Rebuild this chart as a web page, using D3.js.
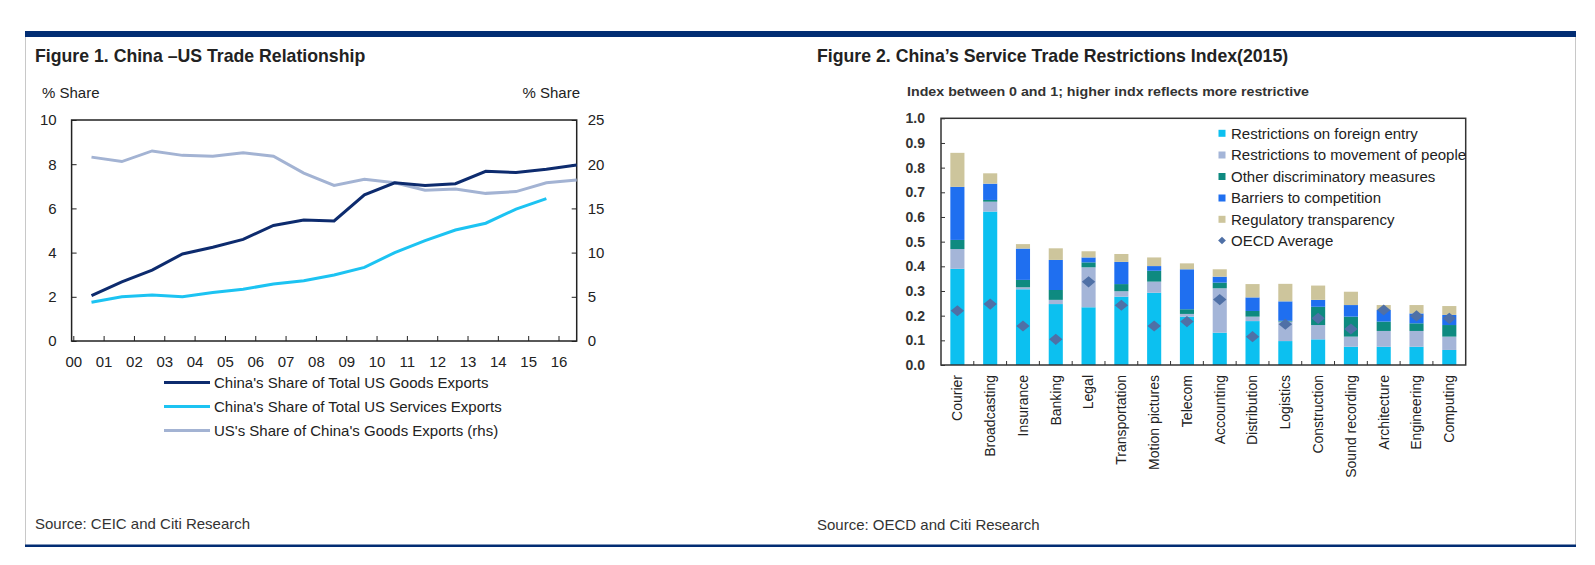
<!DOCTYPE html>
<html>
<head>
<meta charset="utf-8">
<script src="https://cdn.jsdelivr.net/npm/d3@7"></script>
<style>
  html, body { margin: 0; padding: 0; background: #fff; }
  svg text { font-family: "Liberation Sans", Arial, sans-serif; }
</style>
</head>
<body>
<script>
// ---------- Figure 1 data ----------
const yearLabels = ["00","01","02","03","04","05","06","07","08","09","10","11","12","13","14","15","16"];
const goodsShare = [2.05, 2.68, 3.21, 3.94, 4.24, 4.60, 5.23, 5.47, 5.43, 6.61, 7.16, 7.04, 7.12, 7.68, 7.62, 7.77, 7.96];
const servicesShare = [1.75, 2.00, 2.08, 2.00, 2.19, 2.34, 2.58, 2.73, 2.99, 3.33, 4.00, 4.54, 5.02, 5.33, 5.97, 6.44];
const usShareChina = [20.8, 20.3, 21.5, 21.0, 20.9, 21.3, 20.9, 19.0, 17.6, 18.3, 17.9, 17.05, 17.2, 16.7, 16.9, 17.9, 18.2];
const leftTicks = [0, 2, 4, 6, 8, 10];
const rightTicks = [0, 5, 10, 15, 20, 25];
const lineNames = ["China's Share of Total US Goods Exports", "China's Share of Total US Services Exports", "US's Share of China's Goods Exports (rhs)"];
const lineColors = ["#0d2b6e", "#1cc3f2", "#a3b3d3"];

// ---------- Figure 2 data ----------
const sectors = ["Courier","Broadcasting","Insurance","Banking","Legal","Transportation","Motion pictures","Telecom","Accounting","Distribution","Logistics","Construction","Sound recording","Architecture","Engineering","Computing"];
const foreignEntry   = [0.390, 0.622, 0.307, 0.247, 0.234, 0.277, 0.293, 0.196, 0.131, 0.178, 0.097, 0.104, 0.074, 0.074, 0.074, 0.061];
const movementPeople = [0.080, 0.040, 0.008, 0.017, 0.162, 0.022, 0.045, 0.011, 0.180, 0.018, 0.079, 0.058, 0.041, 0.064, 0.064, 0.054];
const otherDiscrim   = [0.037, 0.007, 0.030, 0.040, 0.020, 0.029, 0.044, 0.019, 0.023, 0.023, 0.003, 0.074, 0.081, 0.038, 0.031, 0.047];
const barriersComp   = [0.215, 0.066, 0.127, 0.122, 0.020, 0.090, 0.019, 0.162, 0.024, 0.055, 0.079, 0.028, 0.047, 0.047, 0.040, 0.041];
const regTransparency= [0.138, 0.042, 0.018, 0.047, 0.025, 0.032, 0.035, 0.024, 0.030, 0.054, 0.071, 0.058, 0.054, 0.020, 0.034, 0.036];
const oecdAverage    = [0.220, 0.247, 0.158, 0.104, 0.337, 0.242, 0.158, 0.176, 0.265, 0.115, 0.165, 0.189, 0.146, 0.223, 0.199, 0.189];
const seriesNames = ["Restrictions on foreign entry","Restrictions to movement of people","Other discriminatory measures","Barriers to competition","Regulatory transparency"];
const seriesColors = ["#0cc0f0", "#a4b5d8", "#0e8a80", "#1f6ff0", "#cdc59c"];
const diamondColor = "#4f70a6";
const indexTicks = [0,0.1,0.2,0.3,0.4,0.5,0.6,0.7,0.8,0.9,1.0];

const W = 1595, H = 565;
const svg = d3.select("body").append("svg").attr("width", W).attr("height", H);
const textCol = "#222";

// ---------- frame ----------
svg.append("line").attr("x1", 25.5).attr("x2", 25.5).attr("y1", 37).attr("y2", 545).attr("stroke", "#c8c8c8").attr("stroke-width", 1);
svg.append("line").attr("x1", 1575.5).attr("x2", 1575.5).attr("y1", 37).attr("y2", 545).attr("stroke", "#c8c8c8").attr("stroke-width", 1);
svg.append("rect").attr("x", 25).attr("y", 31).attr("width", 1551).attr("height", 6).attr("fill", "#022d73");
svg.append("rect").attr("x", 25).attr("y", 544.5).attr("width", 1551).attr("height", 2.5).attr("fill", "#022d73");

// ========== Figure 1 ==========
const g1 = svg.append("g");
g1.append("text").attr("x", 35).attr("y", 62).attr("font-size", 17.7).attr("font-weight", "bold").attr("fill", textCol)
  .text("Figure 1. China \u2013US Trade Relationship");
g1.append("text").attr("x", 42).attr("y", 98).attr("font-size", 15).attr("fill", textCol).text("% Share");
g1.append("text").attr("x", 580).attr("y", 98).attr("font-size", 15).attr("fill", textCol).attr("text-anchor", "end").text("% Share");

const L = {left: 71.6, right: 576.7, top: 120, bottom: 341};
const xL = d3.scaleLinear().domain([-0.056, 16.6]).range([L.left, L.right]);
const yL = d3.scaleLinear().domain([0, 10]).range([L.bottom, L.top]);
const yR = d3.scaleLinear().domain([0, 25]).range([L.bottom, L.top]);

const axL = g1.append("g").attr("transform", `translate(${L.left},0)`)
  .call(d3.axisLeft(yL).tickValues(leftTicks).tickSize(-5).tickPadding(15).tickFormat(d3.format("d")));
const axR = g1.append("g").attr("transform", `translate(${L.right},0)`)
  .call(d3.axisRight(yR).tickValues(rightTicks).tickSize(-5).tickPadding(11).tickFormat(d3.format("d")));
const axB = g1.append("g").attr("transform", `translate(0,${L.bottom})`)
  .call(d3.axisBottom(xL).tickValues(d3.range(yearLabels.length)).tickSize(-5).tickPadding(15).tickFormat(i => yearLabels[i]));
[axL, axR, axB].forEach(a => {
  a.select(".domain").remove();
  a.selectAll("text").attr("font-size", 15).attr("fill", textCol).attr("font-family", '"Liberation Sans", Arial, sans-serif');
  a.selectAll("line").attr("stroke", "#222");
});
g1.append("rect").attr("x", L.left).attr("y", L.top).attr("width", L.right - L.left).attr("height", L.bottom - L.top)
  .attr("fill", "none").attr("stroke", "#222").attr("stroke-width", 1.5);

const lineL = d3.line().x((d, i) => xL(i + 0.6)).y(d => yL(d));
const lineR = d3.line().x((d, i) => xL(i + 0.6)).y(d => yR(d));
g1.append("path").datum(usShareChina).attr("d", lineR).attr("fill", "none").attr("stroke", lineColors[2]).attr("stroke-width", 3);
g1.append("path").datum(servicesShare).attr("d", lineL).attr("fill", "none").attr("stroke", lineColors[1]).attr("stroke-width", 3);
g1.append("path").datum(goodsShare).attr("d", lineL).attr("fill", "none").attr("stroke", lineColors[0]).attr("stroke-width", 3);

const leg1 = g1.append("g");
lineNames.forEach((n, i) => {
  const y = 382.5 + i * 24;
  leg1.append("line").attr("x1", 164).attr("x2", 210).attr("y1", y).attr("y2", y).attr("stroke", lineColors[i]).attr("stroke-width", 3);
  leg1.append("text").attr("x", 214).attr("y", y).attr("dy", "0.35em").attr("font-size", 15).attr("fill", textCol).text(n);
});
g1.append("text").attr("x", 35).attr("y", 529).attr("font-size", 15).attr("fill", "#333").text("Source: CEIC and Citi Research");

// ========== Figure 2 ==========
const g2 = svg.append("g");
g2.append("text").attr("x", 817).attr("y", 62).attr("font-size", 17.7).attr("font-weight", "bold").attr("fill", textCol)
  .text("Figure 2. China\u2019s Service Trade Restrictions Index(2015)");
g2.append("text").attr("x", 907).attr("y", 96).attr("font-size", 13.5).attr("font-weight", "bold").attr("fill", "#333")
  .attr("textLength", 402).attr("lengthAdjust", "spacingAndGlyphs")
  .text("Index between 0 and 1; higher indx reflects more restrictive");

const R = {left: 941, right: 1465.7, top: 118.3, bottom: 365};
const xB = d3.scaleBand().domain(sectors).range([R.left, R.right]).paddingInner(0.57).paddingOuter(0.285);
const yB = d3.scaleLinear().domain([0, 1]).range([R.bottom, R.top]);

const axY2 = g2.append("g").attr("transform", `translate(${R.left},0)`)
  .call(d3.axisLeft(yB).tickValues(indexTicks).tickSize(-4).tickPadding(16).tickFormat(d3.format(".1f")));
axY2.select(".domain").remove();
axY2.selectAll("text").attr("font-size", 14).attr("font-weight", "bold").attr("fill", "#333").attr("font-family", '"Liberation Sans", Arial, sans-serif');
axY2.selectAll("line").attr("stroke", "#333");

const stackRows = sectors.map((s, i) => ({
  sector: s, k0: foreignEntry[i], k1: movementPeople[i], k2: otherDiscrim[i], k3: barriersComp[i], k4: regTransparency[i]
}));
const keys = ["k0","k1","k2","k3","k4"];
const stacked = d3.stack().keys(keys)(stackRows);
g2.append("g").selectAll("g").data(stacked).join("g").attr("fill", (d, i) => seriesColors[i])
  .selectAll("rect").data(d => d).join("rect")
  .attr("x", d => xB(d.data.sector)).attr("width", xB.bandwidth())
  .attr("y", d => yB(d[1])).attr("height", d => yB(d[0]) - yB(d[1]));

const diamond = d3.symbol().type(d3.symbolSquare).size(62);
g2.append("g").selectAll("path").data(oecdAverage).join("path")
  .attr("d", diamond)
  .attr("transform", (d, i) => `translate(${xB(sectors[i]) + xB.bandwidth() / 2},${yB(d)}) scale(1.2,1) rotate(45)`)
  .attr("fill", diamondColor);

// category boundary ticks
const step = xB.step();
g2.append("g").selectAll("line").data(sectors.slice(1)).join("line")
  .attr("x1", d => xB(d) - step * xB.paddingInner() / 2).attr("x2", d => xB(d) - step * xB.paddingInner() / 2)
  .attr("y1", R.bottom).attr("y2", R.bottom - 4).attr("stroke", "#333");

g2.append("rect").attr("x", R.left).attr("y", R.top).attr("width", R.right - R.left).attr("height", R.bottom - R.top)
  .attr("fill", "none").attr("stroke", "#333").attr("stroke-width", 1.5);

// category labels
g2.append("g").selectAll("text").data(sectors).join("text")
  .attr("transform", d => `translate(${xB(d) + xB.bandwidth() / 2},375) rotate(-90)`)
  .attr("text-anchor", "end").attr("dy", "0.35em").attr("font-size", 14).attr("fill", textCol).text(d => d);

// legend
const leg2 = g2.append("g");
const legY = [133.3, 155, 176.5, 198, 219.3];
seriesNames.forEach((n, i) => {
  leg2.append("rect").attr("x", 1218.5).attr("y", legY[i] - 3.5).attr("width", 7).attr("height", 7).attr("fill", seriesColors[i]);
  leg2.append("text").attr("x", 1231).attr("y", legY[i]).attr("dy", "0.35em").attr("font-size", 15).attr("fill", textCol).text(n);
});
leg2.append("path").attr("d", d3.symbol().type(d3.symbolSquare).size(30))
  .attr("transform", `translate(1222,240.5) rotate(45)`).attr("fill", diamondColor);
leg2.append("text").attr("x", 1231).attr("y", 240.5).attr("dy", "0.35em").attr("font-size", 15).attr("fill", textCol).text("OECD Average");

g2.append("text").attr("x", 817).attr("y", 530).attr("font-size", 15).attr("fill", "#333").text("Source: OECD and Citi Research");
</script>
</body>
</html>
